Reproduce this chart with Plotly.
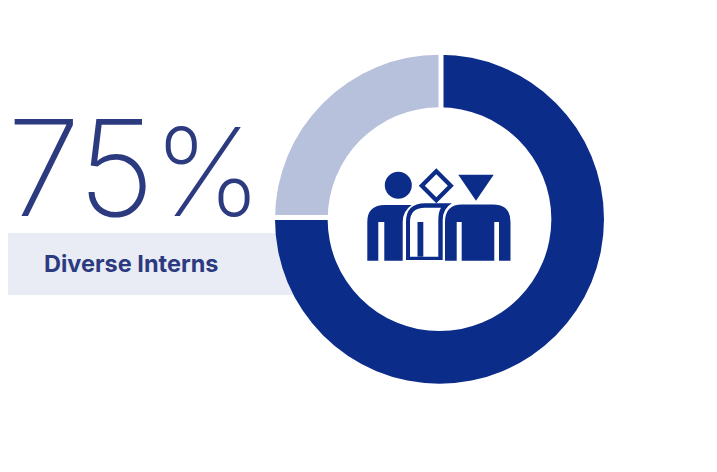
import plotly.graph_objects as go

WIDTH, HEIGHT = 717, 472

segments = ["Diverse Interns", "Other Interns"]
shares = [75, 25]
segment_colors = ["#0c2c8a", "#b7c1dc"]
headline_number = "75"
headline_unit = "%"
caption = "Diverse Interns"
INK = "#0c2c8a"
TEXT = "#2c3a7f"


def fx(px):
    return px / WIDTH


def fy(px):
    return 1 - px / HEIGHT


def path(points):
    """Build a paper-referenced SVG path from (command, x, y, ...) pixel tuples."""
    out = []
    for cmd, *vals in points:
        coords = [
            f"{fx(v) if i % 2 == 0 else fy(v):.5f}" for i, v in enumerate(vals)
        ]
        pairs = [",".join(coords[i:i + 2]) for i in range(0, len(coords), 2)]
        out.append(cmd + " ".join(pairs))
    return " ".join(out)


def filled(d, color=INK):
    return dict(type="path", xref="paper", yref="paper", path=d,
                fillcolor=color, line=dict(width=0), layer="above")


def box(x0, y0, x1, y1, color, layer="above"):
    return dict(type="rect", xref="paper", yref="paper",
                x0=fx(x0), x1=fx(x1), y0=fy(y0), y1=fy(y1),
                fillcolor=color, line=dict(width=0), layer=layer)


left_person = path([
    ("M", 367.3, 260.7), ("L", 367.3, 222), ("Q", 367.3, 205, 385, 205),
    ("L", 411.7, 205), ("Q", 402.7, 211, 402.7, 222), ("L", 402.7, 260.7),
    ("L", 384.3, 260.7), ("L", 384.3, 222), ("L", 378.3, 222),
    ("L", 378.3, 260.7), ("Z",),
])
right_person = path([
    ("M", 445, 260.7), ("L", 445, 222), ("Q", 445, 204.5, 462, 204.5),
    ("L", 493, 204.5), ("Q", 510.5, 204.5, 510.5, 222), ("L", 510.5, 260.7),
    ("L", 499, 260.7), ("L", 499, 222), ("L", 494.3, 222), ("L", 494.3, 260.7),
    ("L", 461.7, 260.7), ("L", 461.7, 222), ("L", 456.7, 222),
    ("L", 456.7, 260.7), ("Z",),
])
# Outlined middle figure: outer contour plus an opposite-wound inner contour.
middle_person = path([
    ("M", 406, 260), ("L", 406, 222), ("Q", 406, 203.3, 425, 203.3),
    ("L", 451.7, 203.3), ("Q", 442.7, 209, 442.7, 220), ("L", 442.7, 260), ("Z",),
    ("M", 410, 256.7), ("L", 438.3, 256.7), ("L", 438.3, 220),
    ("Q", 438.3, 212, 441, 207.7), ("L", 425, 207.7),
    ("Q", 410, 207.7, 410, 222), ("Z",),
])
diamond = path([
    ("M", 436.3, 168.2), ("L", 453.8, 185.7), ("L", 436.3, 203.2),
    ("L", 418.8, 185.7), ("Z",),
    ("M", 436.3, 174.2), ("L", 424.8, 185.7), ("L", 436.3, 197.2),
    ("L", 447.8, 185.7), ("Z",),
])
triangle = path([
    ("M", 458.3, 174.7), ("L", 493.7, 174.7), ("L", 476, 200.7), ("Z",),
])

shapes = [
    box(8, 233, 300, 295, "#e9ecf5", layer="below"),
    # White separators between the two ring segments.
    box(438.5, 45, 443.5, 115, "#ffffff"),
    box(265, 215, 335, 220, "#ffffff"),
    filled(left_person),
    filled(right_person),
    filled(middle_person),
    filled(diamond),
    filled(triangle),
    filled(path([("M", 417.5, 256.7), ("L", 417.5, 222), ("L", 423.3, 222),
                 ("L", 423.3, 256.7), ("Z",)])),
    dict(type="circle", xref="paper", yref="paper",
         x0=fx(384.8), x1=fx(411.8), y0=fy(171.8), y1=fy(198.8),
         fillcolor=INK, line=dict(width=0), layer="above"),
]

fig = go.Figure(go.Pie(
    labels=segments,
    values=shares,
    hole=0.68,
    sort=False,
    direction="clockwise",
    rotation=0,
    textinfo="none",
    hoverinfo="none",
    marker=dict(colors=segment_colors, line=dict(width=0)),
    domain=dict(x=[fx(275), fx(604)], y=[fy(383.7), fy(54.7)]),
    showlegend=False,
))

fig.update_layout(
    width=WIDTH,
    height=HEIGHT,
    margin=dict(l=0, r=0, t=0, b=0),
    paper_bgcolor="#ffffff",
    plot_bgcolor="#ffffff",
    shapes=shapes,
    annotations=[
        dict(text=(f'<span style="letter-spacing:-1.5px">{headline_number}</span>'
                   f'<span style="font-size:122px">{headline_unit}</span>'),
             xref="paper", yref="paper", x=fx(134.5), y=fy(168),
             xanchor="center", yanchor="middle", showarrow=False,
             font=dict(family="Inter", size=133, color=TEXT, weight=200)),
        dict(text=caption, xref="paper", yref="paper", x=fx(131.2), y=fy(263.5),
             xanchor="center", yanchor="middle", showarrow=False,
             font=dict(family="Inter", size=23.5, color=TEXT, weight=700)),
    ],
)

fig.write_html("out.html", config=dict(displayModeBar=False))
